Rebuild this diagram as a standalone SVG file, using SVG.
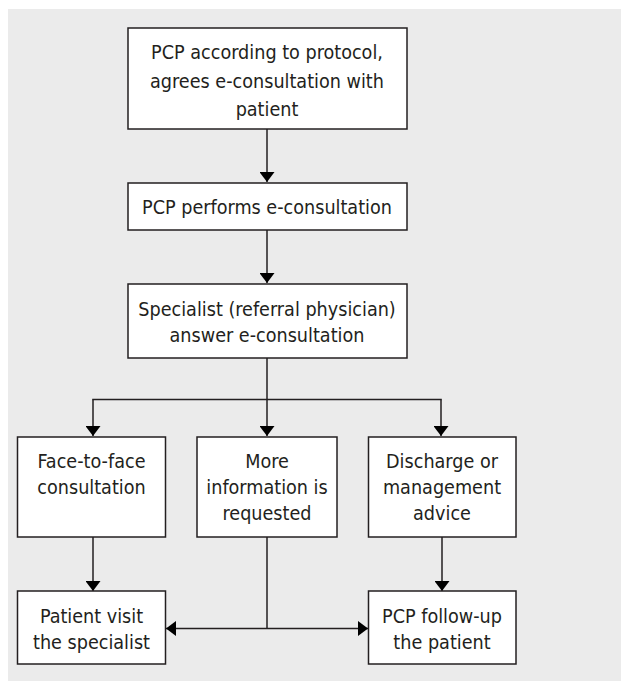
<svg xmlns="http://www.w3.org/2000/svg" width="621" height="681" viewBox="0 0 621 681">
<style>
.bx{fill:#fff;stroke:#231f20;stroke-width:1.5}
.t{font-family:"DejaVu Sans Condensed","Liberation Sans",sans-serif;font-stretch:condensed;font-size:19.6px;fill:#231f20;text-anchor:middle}
.c{fill:none;stroke:#231f20;stroke-width:1.5}
</style>
<defs>
<marker id="ah" viewBox="0 0 10 15" refX="10" refY="7.5" markerWidth="10" markerHeight="15" markerUnits="userSpaceOnUse" orient="auto">
<path d="M0,0 L10,7.5 L0,15 Z" fill="#000"/>
</marker>
</defs>
<rect x="8" y="9" width="613" height="672" fill="#ebebeb"/>
<g id="connectors">
<line class="c" x1="267" y1="129" x2="267" y2="182" marker-end="url(#ah)"/>
<line class="c" x1="267" y1="230" x2="267" y2="283" marker-end="url(#ah)"/>
<line class="c" x1="267" y1="358" x2="267" y2="436" marker-end="url(#ah)"/>
<line class="c" x1="92.25" y1="399.5" x2="441.75" y2="399.5"/>
<line class="c" x1="93" y1="399.5" x2="93" y2="436" marker-end="url(#ah)"/>
<line class="c" x1="441" y1="399.5" x2="441" y2="436" marker-end="url(#ah)"/>
<line class="c" x1="93" y1="537" x2="93" y2="591" marker-end="url(#ah)"/>
<line class="c" x1="442" y1="537" x2="442" y2="591" marker-end="url(#ah)"/>
<line class="c" x1="267" y1="537" x2="267" y2="628.5"/>
<line class="c" x1="267" y1="628.5" x2="166" y2="628.5" marker-end="url(#ah)"/>
<line class="c" x1="267" y1="628.5" x2="368" y2="628.5" marker-end="url(#ah)"/>
</g>
<g id="n1"><rect class="bx" x="128" y="28" width="279" height="101"/>
<text class="t" x="267" y="59">PCP according to protocol,</text>
<text class="t" x="267" y="88">agrees e-consultation with</text>
<text class="t" x="267" y="116">patient</text></g>
<g id="n2"><rect class="bx" x="128" y="183" width="279" height="47"/>
<text class="t" x="267" y="214">PCP performs e-consultation</text></g>
<g id="n3"><rect class="bx" x="128" y="284" width="279" height="74"/>
<text class="t" x="267" y="316">Specialist (referral physician)</text>
<text class="t" x="267" y="342">answer e-consultation</text></g>
<g id="n4"><rect class="bx" x="17.5" y="437" width="148" height="100"/>
<text class="t" x="91.5" y="468">Face-to-face</text>
<text class="t" x="91.5" y="494">consultation</text></g>
<g id="n5"><rect class="bx" x="197" y="437" width="140" height="100"/>
<text class="t" x="267" y="468">More</text>
<text class="t" x="267" y="494">information is</text>
<text class="t" x="267" y="520">requested</text></g>
<g id="n6"><rect class="bx" x="368.5" y="437" width="147.5" height="100"/>
<text class="t" x="442" y="468">Discharge or</text>
<text class="t" x="442" y="494">management</text>
<text class="t" x="442" y="520">advice</text></g>
<g id="n7"><rect class="bx" x="17.5" y="591" width="148" height="73"/>
<text class="t" x="91.5" y="623">Patient visit</text>
<text class="t" x="91.5" y="649">the specialist</text></g>
<g id="n8"><rect class="bx" x="368.5" y="591" width="147.5" height="73"/>
<text class="t" x="442" y="623">PCP follow-up</text>
<text class="t" x="442" y="649">the patient</text></g>
</svg>
